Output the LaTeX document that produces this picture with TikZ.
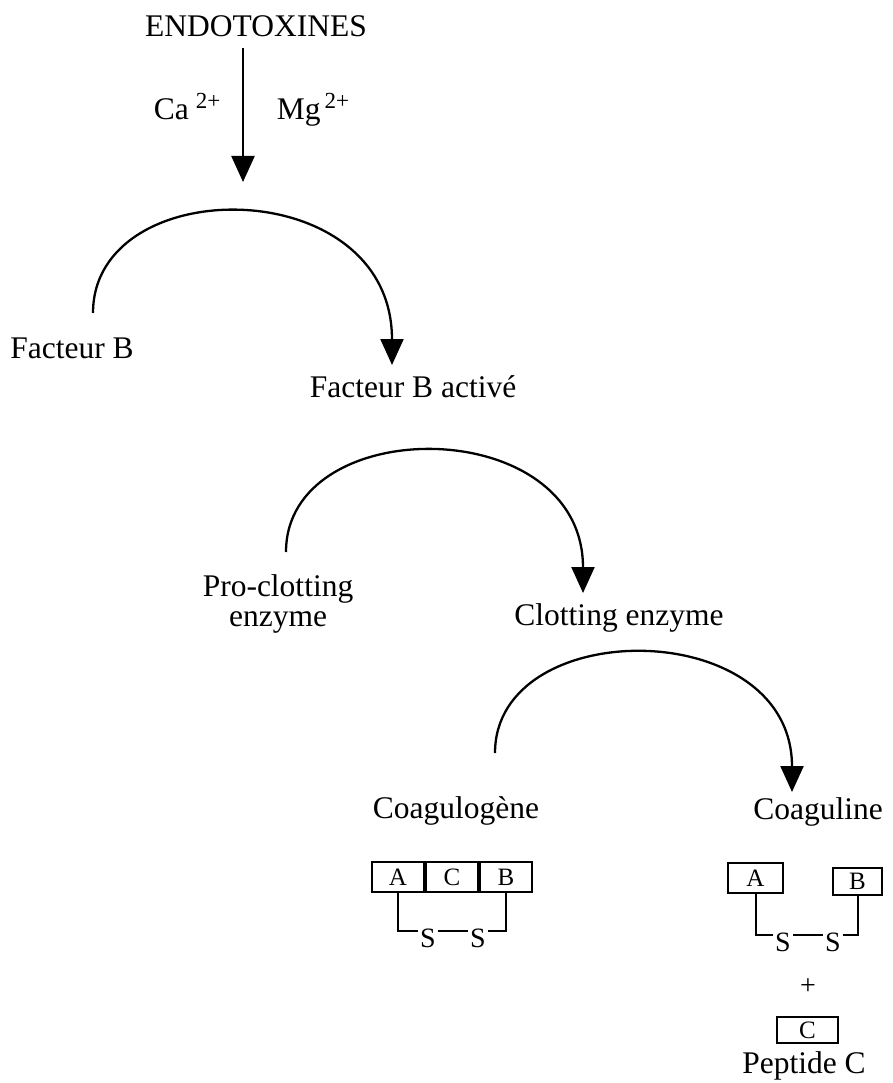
\documentclass[tikz,border=0pt]{standalone}
\usepackage{fontspec}
\setmainfont{Liberation Serif}
\usetikzlibrary{arrows.meta,positioning}

\begin{document}
\begin{tikzpicture}[x=1pt, y=-1pt,
    lbl/.style = {inner sep=0, anchor=base, font=\fontsize{31.5}{29.5}\selectfont},
    chain/.style = {draw, line width=2pt, inner sep=0, minimum height=30pt, font=\fontsize{25}{25}\selectfont},
    sulf/.style = {inner xsep=2pt, inner ysep=0, anchor=base, font=\fontsize{28}{28}\selectfont},
    bond/.style = {line width=2pt},
    react/.style = {line width=2.3pt, -{Triangle[width=23pt, length=26pt]}}]

    \fill[white] (0,0) rectangle (892,1083);
    \useasboundingbox (0,0) rectangle (892,1083);

    % endotoxines
    \node[lbl] (endo) at (256,37) {ENDOTOXINES};
    \node[lbl] (ca) at (187,120) {Ca\hspace{7pt}\raisebox{11pt}{\fontsize{23}{23}\selectfont 2+}};
    \node[lbl] (mg) at (313,120) {Mg\hspace{4pt}\raisebox{11pt}{\fontsize{23}{23}\selectfont 2+}};
    \coordinate (hit) at (243,182);
    \draw[react, shorten <=10pt] (endo.south -| hit) -- (hit);

    % step number 1
    \node[lbl] (fb) at (72,358) {Facteur B};
    \node[lbl] (fba) at (413,397) {Facteur B activé};
    \coordinate (fbout) at (93,313);
    \coordinate (fbin) at (392,365);
    \draw[react] (fbout) .. controls +(0,-142) and +(0,-194) .. (fbin);

    % step number 2
    \node[lbl, align=center] (pro) at (278,626) {Pro-clotting\\enzyme};
    \node[lbl] (clot) at (619,625) {Clotting enzyme};
    \coordinate (proout) at (286,552);
    \coordinate (proin) at (583,593);
    \draw[react] (proout) .. controls +(0,-140) and +(0,-181) .. (proin);

    % step number 3
    \node[lbl] (cgn) at (456,818) {Coagulogène};
    \node[lbl] (cgl) at (818,819) {Coaguline};
    \coordinate (cgout) at (495,753);
    \coordinate (cgin) at (792,792);
    \draw[react] (cgout) .. controls +(0,-138.5) and +(0,-177.5) .. (cgin);

    % coagulogene chain
    \node[chain, minimum width=52pt] (cgA) at (398,877) {A};
    \node[chain, minimum width=52pt, right=0pt of cgA] (cgC) {C};
    \node[chain, minimum width=52pt, right=0pt of cgC] (cgB) {B};
    \node[sulf] (cgS1) at (428,947) {S};
    \node[sulf] (cgS2) at (478,947) {S};
    \draw[bond] (cgA.south) |- ([yshift=-3pt]cgS1.north west);
    \draw[bond] ([yshift=-3pt]cgS1.north east) -- ([yshift=-3pt]cgS2.north west);
    \draw[bond] (cgB.south) |- ([yshift=-3pt]cgS2.north east);

    % coaguline chains
    \node[chain, minimum width=55pt] (clA) at (755.5,878) {A};
    \node[chain, minimum width=49pt, minimum height=27pt] (clB) at (857.5,881.5) {B};
    \node[sulf] (clS1) at (783,951) {S};
    \node[sulf] (clS2) at (833,951) {S};
    \draw[bond] (clA.south) |- ([yshift=-3pt]clS1.north west);
    \draw[bond] ([yshift=-3pt]clS1.north east) -- ([yshift=-3pt]clS2.north west);
    \draw[bond] (clB.south) |- ([yshift=-3pt]clS2.north east);

    % peptide C
    \node[inner sep=0, font=\fontsize{28}{28}\selectfont] (plus) at (808,987) {+};
    \node[chain, minimum width=61pt, minimum height=26pt] (pepC) at (807.5,1030) {C};
    \node[lbl] (pep) at (804,1073) {Peptide C};

\end{tikzpicture}
\end{document}
